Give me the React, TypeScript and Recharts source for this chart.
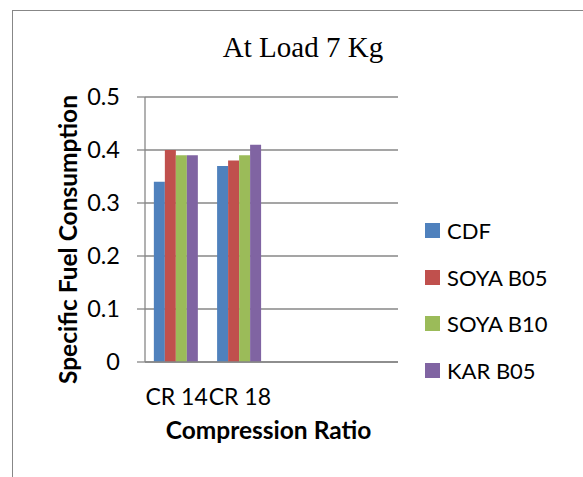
import React from 'react';
import { BarChart, Bar, XAxis, YAxis, CartesianGrid, Legend } from 'recharts';

const categories = ['CR 14', 'CR 18', ' ', '  '];
const cdf = [0.34, 0.37, null, null];
const soyaB05 = [0.4, 0.38, null, null];
const soyaB10 = [0.39, 0.39, null, null];
const karB05 = [0.39, 0.41, null, null];
const yTicks = [0, 0.1, 0.2, 0.3, 0.4, 0.5];

const series = [
  { key: 'cdf', name: 'CDF', color: '#4F81BD' },
  { key: 'soyaB05', name: 'SOYA B05', color: '#C0504D' },
  { key: 'soyaB10', name: 'SOYA B10', color: '#9BBB59' },
  { key: 'karB05', name: 'KAR B05', color: '#8064A2' },
];

const data = categories.map((cat, i) => ({
  cat,
  cdf: cdf[i],
  soyaB05: soyaB05[i],
  soyaB10: soyaB10[i],
  karB05: karB05[i],
}));

const font = 'Lato, "Open Sans", sans-serif';
const grey = '#878787';

// legend keeps the series order (recharts would sort it otherwise)
const legendContent = () => (
  <div style={{ fontFamily: font, fontSize: 22, color: '#000' }}>
    {series.map(s => (
      <div key={s.key} style={{ height: 46.7, display: 'flex', alignItems: 'center' }}>
        <span style={{ width: 15, height: 15, background: s.color, display: 'inline-block', marginRight: 7 }} />
        <span>{s.name}</span>
      </div>
    ))}
  </div>
);

export default function App() {
  return (
    <div style={{ position: 'absolute', left: 0, top: 0, width: 583, height: 477, background: '#fff', overflow: 'hidden' }}>
      <div style={{ position: 'absolute', left: 12, top: 10, width: 600, height: 500, border: `1px solid ${grey}` }} />
      <div
        style={{
          position: 'absolute', left: 203, top: 31, width: 200, textAlign: 'center',
          fontFamily: '"Liberation Serif", "Times New Roman", serif', fontSize: 29, lineHeight: '32px', color: '#000',
        }}
      >
        At Load 7 Kg
      </div>
      <div style={{ position: 'absolute', left: 0, top: 0 }}>
        <BarChart
          width={583}
          height={477}
          data={data}
          margin={{ top: 97, right: 185, bottom: 65, left: 0 }}
          barCategoryGap="14%"
          barGap={0}
        >
          <CartesianGrid vertical={false} stroke={grey} strokeWidth={1.3} />
          <XAxis
            dataKey="cat"
            interval={0}
            tickLine={false}
            tickSize={0}
            tickMargin={27}
            height={50}
            axisLine={{ stroke: grey, strokeWidth: 1.3 }}
            tick={{ fontFamily: font, fontSize: 23, fill: '#000' }}
            label={{
              value: 'Compression Ratio', position: 'bottom', offset: 10, dx: -3,
              style: { fontFamily: font, fontSize: 24.5, fontWeight: 700, fill: '#000' },
            }}
          />
          <YAxis
            width={145}
            domain={[0, 0.5]}
            ticks={yTicks}
            tickSize={8}
            tickMargin={17}
            tickFormatter={(v: number) => (v === 0 ? '0' : v.toFixed(1))}
            axisLine={{ stroke: grey, strokeWidth: 1.3 }}
            tickLine={{ stroke: grey, strokeWidth: 1.3 }}
            tick={{ fontFamily: font, fontSize: 23.5, fill: '#000' }}
            label={{
              value: 'Specific Fuel Consumption', angle: -90, position: 'insideLeft', offset: 68, dy: 10,
              style: { fontFamily: font, fontSize: 24.5, fontWeight: 700, fill: '#000', textAnchor: 'middle' },
            }}
          />
          <Legend
            layout="vertical"
            align="center"
            verticalAlign="middle"
            wrapperStyle={{ left: 425, top: 207, width: 160 }}
            content={legendContent}
          />
          {series.map(s => (
            <Bar key={s.key} dataKey={s.key} name={s.name} fill={s.color} isAnimationActive={false} />
          ))}
        </BarChart>
      </div>
    </div>
  );
}
